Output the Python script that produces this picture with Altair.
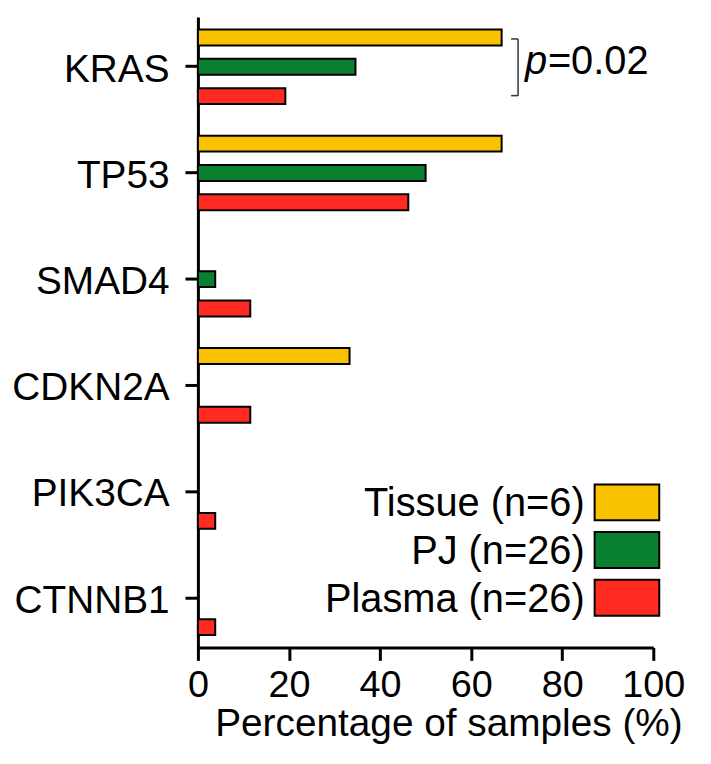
import altair as alt
import pandas as pd

genes = ["KRAS", "TP53", "SMAD4", "CDKN2A", "PIK3CA", "CTNNB1"]
series = ["Tissue (n=6)", "PJ (n=26)", "Plasma (n=26)"]
colors = ["#F9C200", "#08802F", "#FF2A22"]
tissue = [66.7, 66.7, 0.0, 33.3, 0.0, 0.0]
pj = [34.6, 50.0, 3.8, 0.0, 0.0, 0.0]
plasma = [19.2, 46.2, 11.5, 11.5, 3.8, 3.8]
x_ticks = [0, 20, 40, 60, 80, 100]
p_text = "=0.02"

rows = []
for s, vals in zip(series, [tissue, pj, plasma]):
    for g, v in zip(genes, vals):
        rows.append({"gene": g, "series": s, "value": v})
df = pd.DataFrame(rows)

FONT = "Liberation Sans"
W, H = 458, 634

bars = alt.Chart(df).transform_filter("datum.value > 0").mark_bar(
    stroke="black", strokeWidth=2
).encode(
    x=alt.X("value:Q", scale=alt.Scale(domain=[0, 100], nice=False),
            axis=alt.Axis(values=x_ticks, title="Percentage of samples (%)",
                          labelFlush=False, labelOverlap=False,
                          titleX=252, titleY=89, titleBaseline="alphabetic",
                          titleAnchor="middle", titleAlign="center")),
    y=alt.Y("gene:N", sort=genes,
            scale=alt.Scale(paddingInner=0.298, paddingOuter=0.117),
            axis=alt.Axis(title=None, labelPadding=16, labelFontSize=39, labelOffset=3)),
    yOffset=alt.YOffset("series:N", sort=series,
                        scale=alt.Scale(paddingInner=0.458, paddingOuter=0)),
    color=alt.Color("series:N", sort=series,
                    scale=alt.Scale(domain=series, range=colors), legend=None),
)

one = pd.DataFrame({"a": [0]})
layers = [bars]

# custom legend (labels left of swatches)
for i, (s, c) in enumerate(zip(series, colors)):
    yc = 488 + 48 * i
    layers.append(alt.Chart(one).mark_rect(stroke="black", strokeWidth=2, fill=c).encode(
        x=alt.value(399), x2=alt.value(464), y=alt.value(yc - 18), y2=alt.value(yc + 18)))
    layers.append(alt.Chart(one).mark_text(
        text=s, align="right", baseline="middle", font=FONT, fontSize=40, color="black"
    ).encode(x=alt.value(389), y=alt.value(yc + 2)))

# significance bracket
bk = "#333333"
layers.append(alt.Chart(one).mark_rule(color=bk, strokeWidth=1.5).encode(
    x=alt.value(322), y=alt.value(22), y2=alt.value(79)))
layers.append(alt.Chart(one).mark_rule(color=bk, strokeWidth=1.5).encode(
    x=alt.value(315), x2=alt.value(322), y=alt.value(22)))
layers.append(alt.Chart(one).mark_rule(color=bk, strokeWidth=1.5).encode(
    x=alt.value(315), x2=alt.value(322), y=alt.value(79)))
layers.append(alt.Chart(one).mark_text(
    text="p", align="left", baseline="alphabetic", font=FONT, fontSize=40,
    fontStyle="italic", color="black").encode(x=alt.value(329), y=alt.value(57)))
layers.append(alt.Chart(one).mark_text(
    text=p_text, align="left", baseline="alphabetic", font=FONT, fontSize=40,
    color="black").encode(x=alt.value(352), y=alt.value(57)))

chart = alt.layer(*layers).properties(
    width=W, height=H,
    autosize=alt.AutoSizeParams(type="none"),
    padding={"left": 191, "top": 7, "right": 50, "bottom": 100},
).configure_view(stroke=None).configure_axis(
    domainColor="black", domainWidth=3, tickColor="black", tickWidth=3,
    tickSize=13, grid=False, labelFont=FONT, labelFontSize=38, labelColor="black",
    titleFont=FONT, titleFontSize=39, titleColor="black", titleFontWeight="normal",
).configure_axisX(labelPadding=6)

chart.save("out.html", embed_options={"renderer": "svg", "actions": False})
